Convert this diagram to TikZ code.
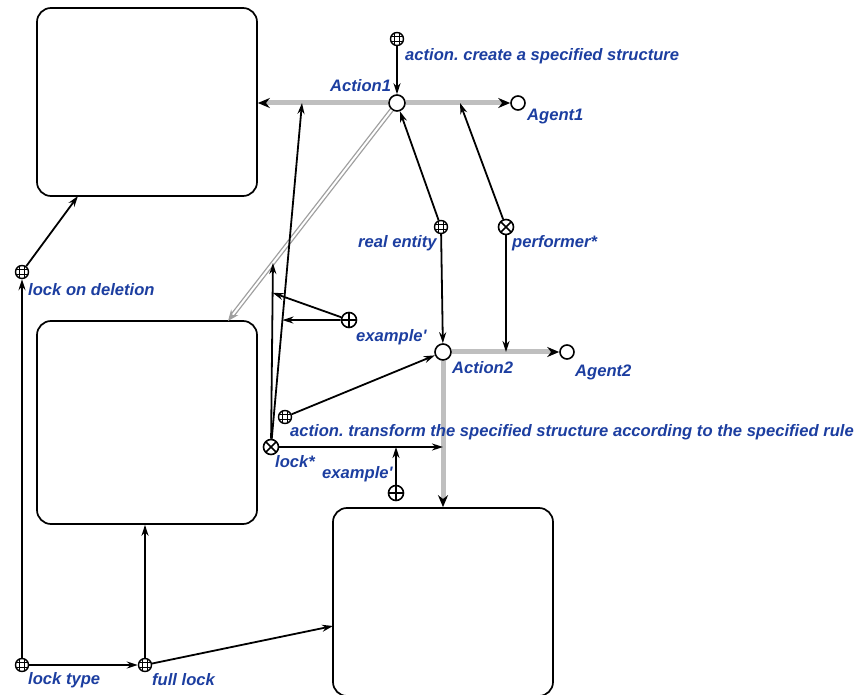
\documentclass[tikz,border=0pt]{standalone}
\usepackage{fontspec}
\setmainfont{Liberation Sans}
\usetikzlibrary{arrows.meta,calc}
\definecolor{lblblue}{RGB}{28,62,160}
\frenchspacing
\tikzset{
      bigbox/.style={
        draw,
        rounded corners=14pt,
        line width=1.7pt,
        minimum width=220pt,
        inner sep=0pt
      },
      actnode/.style={circle, draw, line width=1.6pt, fill=white, minimum size=16pt, inner sep=0pt},
      agentnode/.style={circle, draw, line width=1.6pt, fill=white, minimum size=14pt, inner sep=0pt},
      gridnode/.style={circle, draw, line width=1.4pt, fill=white, minimum size=13pt, inner sep=0pt,
        path picture={
          \foreach \s in {-2.3pt,2.3pt}{
            \draw[line width=0.7pt] ([xshift=\s]path picture bounding box.north) -- ([xshift=\s]path picture bounding box.south);
            \draw[line width=0.7pt] ([yshift=\s]path picture bounding box.west) -- ([yshift=\s]path picture bounding box.east);
          }}},
      crossnode/.style={circle, draw, line width=1.6pt, fill=white, minimum size=15pt, inner sep=0pt,
        path picture={
          \draw[line width=1.5pt] (path picture bounding box.north west) -- (path picture bounding box.south east)
            (path picture bounding box.north east) -- (path picture bounding box.south west);}},
      plusnode/.style={circle, draw, line width=1.6pt, fill=white, minimum size=15pt, inner sep=0pt,
        path picture={
          \draw[line width=1.5pt] (path picture bounding box.north) -- (path picture bounding box.south)
            (path picture bounding box.west) -- (path picture bounding box.east);}},
      lbl/.style={anchor=west, text=lblblue, inner sep=0pt,
        font=\fontsize{16.6}{19}\selectfont\bfseries\itshape},
      arr/.style={line width=1.8pt, -{Stealth[length=11pt,width=7pt]}},
      garr/.style={draw=gray!50, line width=5pt, -{Stealth[black,length=12pt,width=10pt]}},
      dblarr/.style={draw=gray!75, double=white, line width=1.3pt, double distance=2pt,
        -{Stealth[length=11pt,width=9pt]}}
    }
\begin{document}
\begin{tikzpicture}[x=1pt,y=-1pt]
    \useasboundingbox (0,0) rectangle (863,695);
    \node[bigbox, minimum height=188pt] (box1) at (147,102) {};
    \node[bigbox, minimum height=203pt] (box2) at (147,422.5) {};
    \node[bigbox, minimum height=188pt] (box3) at (443,602) {};
    \node[actnode] (act1) at (397,103) {};
    \node[agentnode] (agent1) at (518,103) {};
    \node[gridnode] (create) at (397,39) {};
    \node[gridnode] (realent) at (441,227) {};
    \node[crossnode] (perf) at (506,227) {};
    \node[actnode] (act2) at (443,352) {};
    \node[agentnode] (agent2) at (567,352) {};
    \node[plusnode] (examp1) at (349,320) {};
    \node[gridnode] (transf) at (285,417) {};
    \node[crossnode] (lockst) at (271,447) {};
    \node[plusnode] (examp2) at (396,493) {};
    \node[gridnode] (lockdel) at (22,272) {};
    \node[gridnode] (locktype) at (22,665) {};
    \node[gridnode] (fulllock) at (145,665) {};
    \coordinate (b1in) at (78,196);
    \coordinate (b2in) at (228,321);
    \coordinate (b3in) at (333,626);
    \coordinate (a1left) at (302,103);
    \coordinate (a1right) at (460,103);
    \coordinate (dlpt) at ($(act1)!0.734!(b2in)$);
    \coordinate (slpt) at ($(lockst)!0.369!(a1left)$);
    \coordinate (vlpt) at ($(lockst)!0.838!(dlpt)$);
    \draw[garr] (act1) -- (act1 -| box1.east);
    \draw[garr] (act1) -- (agent1);
    \draw[garr] (act2) -- (agent2);
    \draw[garr] (act2) -- (act2 |- box3.north);
    \draw[dblarr] (act1) -- (b2in);
    \draw[arr] (create) -- (act1);
    \draw[arr] (realent) -- (act1);
    \draw[arr] (realent) -- (act2);
    \draw[arr] (perf) -- (a1right);
    \draw[arr] (perf) -- (perf |- act2);
    \draw[arr] (lockst) -- (a1left);
    \draw[arr] (lockst) -- (dlpt);
    \draw[arr] (examp1) -- (slpt);
    \draw[arr] (examp1) -- (vlpt);
    \draw[arr] (transf) -- (act2);
    \draw[arr] (lockst) -- (lockst -| act2);
    \draw[arr] (examp2) -- (examp2 |- lockst);
    \draw[arr] (lockdel) -- (b1in);
    \draw[arr] (locktype) -- (lockdel);
    \draw[arr] (locktype) -- (fulllock);
    \draw[arr] (fulllock) -- (fulllock |- box2.south);
    \draw[arr] (fulllock) -- (b3in);
    \node[lbl] (lcreate) at (405,56) {action. create a specified structure};
    \node[lbl] (lact1) at (330,86) {Action1};
    \node[lbl] (lagent1) at (527,117) {Agent1};
    \node[lbl] (lreal) at (358,243) {real entity};
    \node[lbl] (lperf) at (512,243) {performer*};
    \node[lbl] (lex1) at (356,337) {example\textquotesingle};
    \node[lbl] (lact2) at (452,368) {Action2};
    \node[lbl] (lagent2) at (575,372) {Agent2};
    \node[lbl] (ltransf) at (290,432) {action. transform the specified structure according to the specified rule};
    \node[lbl] (llock) at (275,462) {lock*};
    \node[lbl] (lex2) at (322,474) {example\textquotesingle};
    \node[lbl] (llockdel) at (28,290) {lock on deletion};
    \node[lbl] (llocktype) at (28,680) {lock type};
    \node[lbl] (lfull) at (152,680) {full lock};
\end{tikzpicture}
\end{document}
